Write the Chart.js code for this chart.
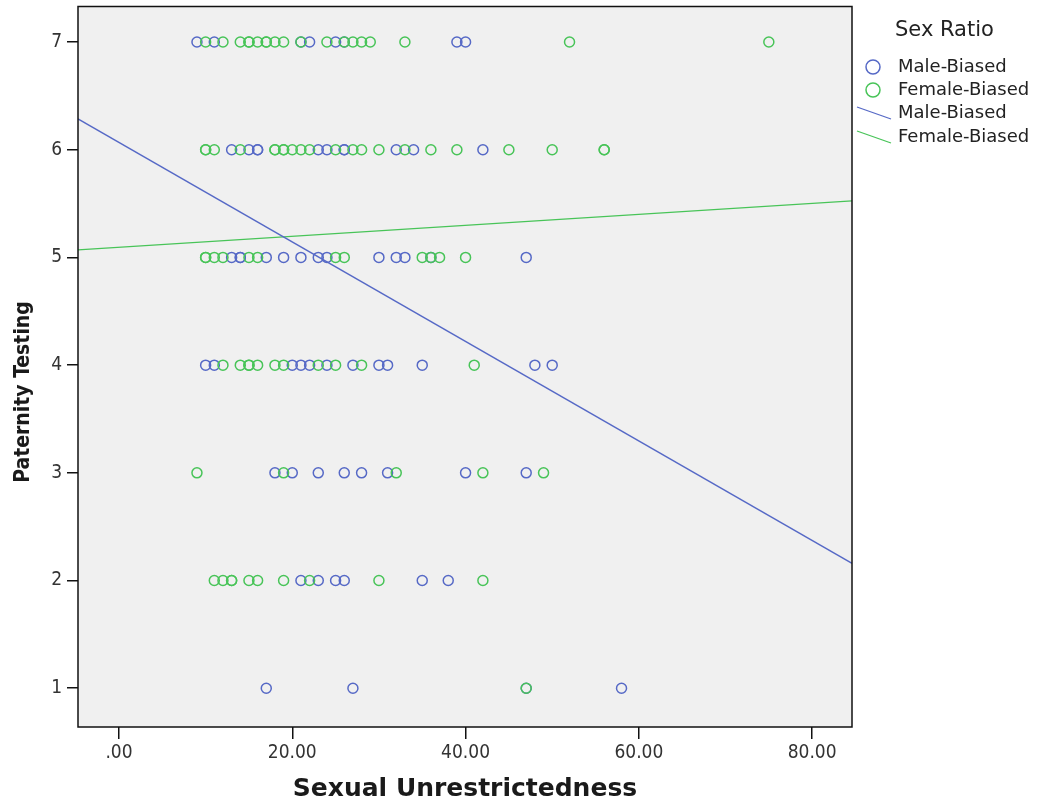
<!DOCTYPE html>
<html>
<head>
<meta charset="utf-8">
<title>Paternity Testing by Sexual Unrestrictedness</title>
<script src="https://cdn.jsdelivr.net/npm/chart.js@4.4.0/dist/chart.umd.min.js"></script>
<style>
  html, body { margin: 0; padding: 0; background: #fff; }
  #wrap { width: 1042px; height: 810px; }
</style>
</head>
<body>
<div id="wrap"><canvas id="scatter" width="1042" height="810"></canvas></div>
<script>
// axis setup
const xTicks = [0, 20, 40, 60, 80];
const xTickLabels = ['.00', '20.00', '40.00', '60.00', '80.00'];
const yTicks = [1, 2, 3, 4, 5, 6, 7];
const xRange = [-4.73, 84.6];
const yRange = [0.64, 7.33];

// paternity testing levels, and the sexual unrestrictedness scores seen at each level
const levels = [7, 6, 5, 4, 3, 2, 1];
const maleScores = [
    [9, 11, 21, 22, 25, 26, 39, 40],
    [13, 15, 16, 16, 23, 24, 26, 26, 32, 34, 42],
    [13, 14, 14, 17, 19, 21, 23, 24, 30, 32, 33, 36, 47],
    [10, 11, 20, 21, 22, 24, 27, 30, 31, 35, 48, 50],
    [18, 20, 23, 26, 28, 31, 40, 47],
    [21, 23, 25, 26, 35, 38],
    [17, 27, 47, 58]
];
const femaleScores = [
    [10, 12, 14, 15, 15, 16, 17, 17, 18, 19, 21, 24, 26, 27, 28, 29, 33, 52, 75],
    [10, 10, 11, 14, 18, 18, 19, 19, 20, 21, 22, 25, 27, 28, 30, 33, 36, 39, 45, 50, 56, 56],
    [10, 10, 11, 12, 15, 16, 25, 26, 35, 36, 37, 40],
    [12, 14, 15, 15, 16, 18, 19, 23, 25, 28, 41],
    [9, 19, 32, 42, 49],
    [11, 12, 13, 13, 15, 16, 19, 22, 30, 42],
    [47]
];

// fit lines (intercept, slope)
const maleFit = [6.068, -0.0462];
const femaleFit = [5.095, 0.00508];

const legendTitle = 'Sex Ratio';
const seriesNames = ['Male-Biased', 'Female-Biased'];
const yTitle = 'Paternity Testing';
const xTitle = 'Sexual Unrestrictedness';

const maleColor = '#5669c6';
const femaleColor = '#48c458';

function toPoints(groups) {
    const pts = [];
    groups.forEach((scores, i) => {
        scores.forEach(s => pts.push({ x: s, y: levels[i] }));
    });
    return pts;
}

function fitLine(fit) {
    return xRange.map(x => ({ x: x, y: fit[0] + fit[1] * x }));
}

// background, frame, y title and legend
const framePlugin = {
    id: 'framePlugin',
    beforeDraw(chart) {
        const a = chart.chartArea;
        const ctx = chart.ctx;
        ctx.save();
        ctx.fillStyle = '#f0f0f0';
        ctx.fillRect(a.left, a.top, a.right - a.left, a.bottom - a.top);
        ctx.restore();
    },
    afterDraw(chart) {
        const a = chart.chartArea;
        const ctx = chart.ctx;
        ctx.save();
        ctx.strokeStyle = '#111';
        ctx.lineWidth = 1.5;
        ctx.strokeRect(a.left, a.top, a.right - a.left, a.bottom - a.top);

        // y axis title
        ctx.fillStyle = '#1a1a1a';
        ctx.font = 'bold 21px "DejaVu Sans Condensed"';
        ctx.textAlign = 'center';
        ctx.textBaseline = 'middle';
        ctx.translate(24, 392);
        ctx.rotate(-Math.PI / 2);
        ctx.fillText(yTitle, 0, 0);
        ctx.restore();

        // legend
        ctx.save();
        ctx.fillStyle = '#222';
        ctx.textAlign = 'left';
        ctx.textBaseline = 'middle';
        ctx.font = '21px "DejaVu Sans"';
        ctx.fillText(legendTitle, 895, 31);

        ctx.font = '18px "DejaVu Sans"';
        const colors = [maleColor, femaleColor];
        const rows = [67, 90, 113, 137];
        ctx.lineWidth = 1.5;
        for (let i = 0; i < 2; i++) {
            ctx.strokeStyle = colors[i];
            ctx.beginPath();
            ctx.arc(873, rows[i], 7, 0, Math.PI * 2);
            ctx.stroke();
            ctx.fillText(seriesNames[i], 898, rows[i]);
        }
        ctx.lineWidth = 1.3;
        for (let i = 0; i < 2; i++) {
            const r = rows[i + 2];
            ctx.strokeStyle = colors[i];
            ctx.beginPath();
            ctx.moveTo(857, r - 6);
            ctx.lineTo(891, r + 6);
            ctx.stroke();
            ctx.fillText(seriesNames[i], 898, r);
        }
        ctx.restore();
    }
};

const tickFont = { family: '"DejaVu Sans Condensed"', size: 19 };

new Chart(document.getElementById('scatter').getContext('2d'), {
    type: 'scatter',
    data: {
        datasets: [
            {
                label: seriesNames[0],
                data: toPoints(maleScores),
                borderColor: maleColor,
                backgroundColor: 'transparent',
                pointRadius: 5,
                borderWidth: 1.5,
                order: 3
            },
            {
                label: seriesNames[1],
                data: toPoints(femaleScores),
                borderColor: femaleColor,
                backgroundColor: 'transparent',
                pointRadius: 5,
                borderWidth: 1.5,
                order: 2
            },
            {
                type: 'line',
                label: seriesNames[0] + ' fit',
                data: fitLine(maleFit),
                borderColor: maleColor,
                borderWidth: 1.3,
                pointRadius: 0,
                fill: false,
                order: 0
            },
            {
                type: 'line',
                label: seriesNames[1] + ' fit',
                data: fitLine(femaleFit),
                borderColor: femaleColor,
                borderWidth: 1.3,
                pointRadius: 0,
                fill: false,
                order: 1
            }
        ]
    },
    options: {
        responsive: false,
        animation: false,
        devicePixelRatio: 1,
        layout: { padding: { top: 5, right: 190, bottom: 0, left: 0 } },
        plugins: {
            legend: { display: false },
            tooltip: { enabled: false }
        },
        scales: {
            x: {
                type: 'linear',
                min: xRange[0],
                max: xRange[1],
                afterBuildTicks: scale => { scale.ticks = xTicks.map(v => ({ value: v })); },
                afterFit: scale => {
                    scale.height = 83;
                    scale.paddingLeft = 0;
                    scale.paddingRight = 0;
                },
                border: { display: false },
                grid: { drawOnChartArea: false, drawTicks: true, tickLength: 12, color: '#111', lineWidth: 1.5 },
                ticks: {
                    font: tickFont,
                    color: '#333',
                    padding: 3,
                    maxRotation: 0,
                    callback: (v, i) => xTickLabels[i]
                },
                title: {
                    display: true,
                    text: xTitle,
                    color: '#1a1a1a',
                    font: { family: '"DejaVu Sans"', size: 25, weight: 'bold' },
                    padding: { top: 0, bottom: 6 }
                }
            },
            y: {
                type: 'linear',
                min: yRange[0],
                max: yRange[1],
                afterBuildTicks: scale => { scale.ticks = yTicks.map(v => ({ value: v })); },
                afterFit: scale => {
                    scale.width = 78;
                    scale.paddingTop = 0;
                    scale.paddingBottom = 0;
                },
                border: { display: false },
                grid: { drawOnChartArea: false, drawTicks: true, tickLength: 11, color: '#111', lineWidth: 1.5 },
                ticks: {
                    font: tickFont,
                    color: '#333',
                    padding: 5
                }
            }
        }
    },
    plugins: [framePlugin]
});
</script>
</body>
</html>
